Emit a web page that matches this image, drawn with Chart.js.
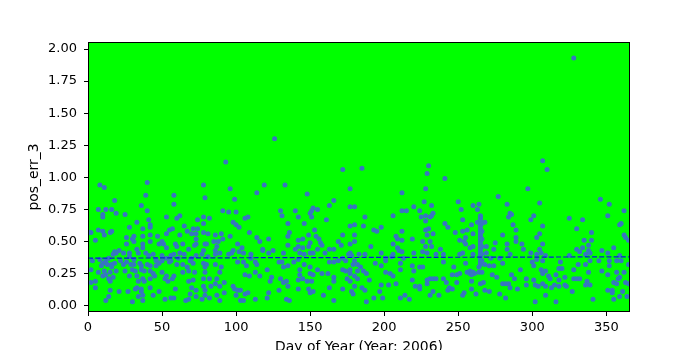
<!DOCTYPE html>
<html lang="en">
<head>
<meta charset="UTF-8">
<title>pos_err_3 - 2006</title>
<script src="https://cdn.jsdelivr.net/npm/chart.js"></script>
<style>
  body { margin: 0; background: #fff; }
</style>
</head>
<body>
<canvas id="chart" width="700" height="350"></canvas>
<script>
const janFeb = [[8,0.94],[11,0.92],[40,0.96],[18,0.82],[39,0.86],[36,0.78],[40,0.74],[7,0.75],[12,0.75],[16,0.75],[10,0.71],[10,0.69],[19,0.72],[25,0.71],[33,0.65],[41,0.67],[42,0.63],[42,0.61],[53,0.69],[58,0.86],[58,0.79],[28,0.61],[37,0.60],[7,0.59],[10,0.58],[11,0.55],[15,0.57],[16,0.58],[2,0.57],[1,0.57],[5,0.51],[26,0.53],[31,0.54],[30,0.52],[31,0.50],[37,0.54],[37,0.48],[37,0.45],[42,0.55],[42,0.50],[47,0.54],[48,0.48],[51,0.48],[50,0.50],[53,0.56],[55,0.59],[57,0.60],[53,0.45],[56,0.39],[58,0.40],[26,0.48],[21,0.43],[18,0.42],[19,0.41],[17,0.40],[24,0.41],[28,0.41],[33,0.44],[34,0.41],[28,0.38],[31,0.36],[39,0.41],[41,0.39],[44,0.40],[46,0.36],[50,0.39],[53,0.37],[3,0.35],[8,0.36],[10,0.33],[12,0.35],[14,0.37],[9,0.31],[13,0.32],[16,0.32],[18,0.33],[22,0.35],[24,0.32],[26,0.34],[29,0.32],[31,0.32],[35,0.33],[36,0.31],[40,0.32],[42,0.31],[46,0.35],[48,0.33],[50,0.35],[55,0.34],[56,0.35],[2,0.28],[7,0.26],[11,0.27],[16,0.30],[15,0.26],[19,0.27],[25,0.27],[30,0.28],[32,0.27],[36,0.28],[38,0.27],[42,0.27],[44,0.25],[46,0.31],[2,0.18],[5,0.19],[10,0.23],[12,0.24],[14,0.21],[15,0.19],[17,0.22],[28,0.23],[33,0.23],[34,0.19],[37,0.21],[38,0.19],[42,0.21],[45,0.23],[50,0.26],[52,0.21],[54,0.19],[57,0.21],[58,0.23],[53,0.23],[5,0.14],[15,0.12],[14,0.07],[12,0.04],[21,0.11],[27,0.11],[32,0.13],[33,0.14],[36,0.13],[36,0.11],[37,0.08],[37,0.04],[34,0.07],[42,0.14],[44,0.08],[48,0.11],[52,0.05],[56,0.06],[58,0.06],[30,0.03]];

const marApr = [[93,1.12],[78,0.94],[79,0.84],[96,0.91],[99,0.83],[114,0.88],[119,0.94],[91,0.74],[95,0.73],[100,0.73],[74,0.67],[78,0.69],[82,0.68],[60,0.68],[62,0.70],[106,0.68],[108,0.69],[98,0.65],[100,0.63],[102,0.61],[78,0.64],[65,0.62],[71,0.60],[74,0.60],[67,0.58],[62,0.55],[70,0.56],[73,0.56],[78,0.57],[81,0.56],[86,0.55],[90,0.56],[109,0.57],[96,0.54],[114,0.53],[116,0.50],[73,0.52],[73,0.48],[72,0.47],[64,0.48],[59,0.48],[60,0.46],[79,0.48],[80,0.48],[85,0.50],[88,0.50],[91,0.52],[87,0.46],[101,0.48],[104,0.45],[118,0.44],[68,0.44],[78,0.43],[86,0.43],[98,0.43],[102,0.42],[62,0.41],[65,0.40],[61,0.37],[70,0.37],[73,0.39],[77,0.40],[81,0.38],[86,0.40],[89,0.41],[95,0.40],[97,0.41],[105,0.41],[110,0.40],[110,0.37],[113,0.34],[105,0.34],[101,0.34],[60,0.32],[64,0.32],[69,0.35],[71,0.33],[67,0.30],[78,0.33],[79,0.30],[80,0.32],[86,0.32],[90,0.30],[107,0.31],[114,0.32],[64,0.26],[68,0.27],[72,0.26],[79,0.26],[89,0.26],[106,0.24],[109,0.23],[113,0.26],[116,0.23],[68,0.19],[71,0.20],[78,0.21],[82,0.21],[87,0.21],[86,0.17],[83,0.15],[78,0.15],[92,0.18],[89,0.15],[98,0.15],[99,0.13],[101,0.12],[103,0.12],[106,0.09],[108,0.10],[59,0.13],[70,0.14],[69,0.09],[73,0.12],[73,0.07],[79,0.12],[79,0.08],[82,0.06],[87,0.08],[89,0.04],[66,0.04],[68,0.05],[77,0.05],[100,0.08],[103,0.04],[105,0.04],[113,0.05],[92,0.10]];

const mayJun = [[126,1.30],[172,1.06],[133,0.94],[177,0.91],[148,0.87],[166,0.82],[163,0.78],[177,0.77],[180,0.77],[152,0.76],[151,0.74],[155,0.75],[150,0.72],[151,0.69],[130,0.74],[131,0.70],[140,0.74],[142,0.69],[161,0.67],[135,0.64],[146,0.64],[177,0.62],[180,0.63],[153,0.59],[136,0.57],[135,0.54],[149,0.55],[154,0.54],[156,0.52],[172,0.55],[122,0.52],[142,0.51],[145,0.52],[150,0.49],[157,0.49],[158,0.47],[169,0.50],[177,0.48],[180,0.50],[135,0.47],[142,0.46],[145,0.45],[149,0.46],[155,0.44],[163,0.44],[166,0.44],[171,0.47],[118,0.43],[122,0.41],[125,0.43],[132,0.41],[140,0.44],[143,0.41],[146,0.40],[150,0.41],[152,0.41],[160,0.41],[177,0.41],[178,0.39],[142,0.36],[172,0.37],[176,0.40],[129,0.34],[131,0.34],[139,0.34],[146,0.32],[163,0.34],[166,0.34],[169,0.35],[174,0.35],[179,0.32],[132,0.30],[135,0.31],[143,0.28],[150,0.30],[155,0.28],[121,0.28],[172,0.28],[174,0.27],[177,0.25],[124,0.22],[123,0.19],[143,0.24],[145,0.21],[150,0.25],[152,0.24],[158,0.25],[162,0.25],[166,0.22],[166,0.19],[175,0.21],[177,0.19],[130,0.21],[132,0.18],[134,0.19],[142,0.20],[148,0.19],[151,0.19],[135,0.15],[142,0.13],[149,0.13],[150,0.10],[152,0.11],[163,0.14],[172,0.13],[122,0.10],[129,0.12],[121,0.06],[134,0.05],[136,0.04],[159,0.08],[166,0.04],[178,0.11],[179,0.09]];

const julAug = [[185,1.07],[230,1.09],[229,1.03],[241,0.99],[212,0.88],[228,0.91],[220,0.77],[227,0.81],[232,0.78],[212,0.74],[215,0.74],[224,0.74],[187,0.69],[206,0.70],[225,0.69],[228,0.70],[228,0.66],[231,0.69],[233,0.72],[232,0.70],[241,0.64],[186,0.62],[198,0.61],[193,0.59],[195,0.58],[212,0.58],[228,0.59],[230,0.60],[233,0.56],[229,0.55],[180,0.55],[208,0.54],[209,0.52],[191,0.46],[206,0.48],[212,0.51],[219,0.52],[226,0.50],[231,0.50],[232,0.46],[228,0.46],[238,0.44],[209,0.45],[210,0.43],[212,0.42],[183,0.40],[187,0.40],[198,0.41],[206,0.40],[220,0.41],[229,0.41],[226,0.42],[235,0.40],[240,0.40],[201,0.37],[201,0.35],[205,0.38],[213,0.37],[180,0.35],[182,0.32],[184,0.30],[194,0.33],[198,0.31],[211,0.33],[211,0.28],[219,0.31],[224,0.30],[226,0.30],[240,0.34],[177,0.28],[182,0.27],[186,0.27],[188,0.25],[201,0.26],[204,0.25],[206,0.23],[220,0.27],[180,0.23],[182,0.21],[190,0.20],[219,0.20],[229,0.20],[231,0.21],[233,0.21],[235,0.21],[240,0.21],[180,0.15],[198,0.16],[208,0.17],[203,0.16],[185,0.14],[187,0.12],[197,0.11],[221,0.15],[224,0.13],[224,0.15],[229,0.17],[233,0.11],[231,0.08],[237,0.08],[188,0.03],[193,0.06],[199,0.06],[211,0.06],[214,0.08],[217,0.05]];

const sepOct = [[297,0.91],[277,0.85],[250,0.81],[283,0.79],[260,0.78],[264,0.79],[263,0.75],[252,0.75],[285,0.72],[286,0.71],[284,0.69],[265,0.69],[253,0.67],[243,0.61],[287,0.63],[289,0.59],[268,0.65],[263,0.65],[259,0.63],[256,0.59],[253,0.58],[248,0.57],[260,0.56],[280,0.55],[289,0.53],[289,0.50],[293,0.48],[283,0.48],[275,0.49],[251,0.51],[255,0.53],[255,0.48],[254,0.50],[260,0.46],[258,0.45],[269,0.46],[274,0.44],[283,0.44],[294,0.44],[253,0.41],[260,0.40],[269,0.41],[272,0.37],[278,0.37],[285,0.40],[251,0.40],[247,0.30],[255,0.33],[268,0.32],[271,0.31],[274,0.31],[280,0.33],[292,0.28],[264,0.26],[266,0.26],[256,0.26],[258,0.25],[249,0.24],[251,0.25],[246,0.24],[273,0.24],[276,0.22],[286,0.24],[288,0.21],[242,0.18],[249,0.18],[259,0.19],[265,0.17],[267,0.18],[280,0.17],[282,0.17],[284,0.17],[285,0.14],[290,0.13],[296,0.21],[296,0.16],[244,0.14],[246,0.13],[259,0.13],[262,0.09],[254,0.10],[253,0.08],[268,0.12],[271,0.11],[278,0.09],[282,0.06],[243,0.12],
  [265,0.70],[265,0.68],[265,0.66],[265,0.64],[265,0.62],[265,0.60],[265,0.58],[265,0.56],[265,0.54],[265,0.52],[265,0.50],[265,0.48],[265,0.46],[265,0.44],[265,0.42],[265,0.40],[265,0.38],[265,0.36],[265,0.34],[265,0.32],[264,0.30],
  [266,0.64],[266,0.58],[266,0.52],[266,0.46],[266,0.40],[266,0.35],[258,0.27],[259,0.26],[260,0.26],[261,0.25],[259,0.24]];

const novDec = [[328,1.93],[307,1.13],[310,1.06],[346,0.83],[352,0.79],[305,0.80],[362,0.74],[351,0.70],[301,0.70],[299,0.67],[325,0.68],[334,0.67],[360,0.64],[359,0.63],[307,0.62],[330,0.60],[340,0.57],[305,0.56],[303,0.53],[362,0.55],[363,0.53],[365,0.51],[335,0.51],[340,0.51],[307,0.48],[338,0.47],[334,0.45],[330,0.44],[305,0.44],[355,0.45],[347,0.43],[338,0.43],[299,0.41],[303,0.40],[306,0.41],[309,0.39],[325,0.39],[332,0.42],[336,0.40],[339,0.41],[351,0.41],[359,0.39],[303,0.36],[307,0.35],[300,0.34],[301,0.31],[319,0.34],[331,0.32],[336,0.32],[339,0.35],[345,0.35],[352,0.35],[352,0.31],[357,0.35],[360,0.35],[365,0.32],[306,0.28],[307,0.25],[309,0.27],[318,0.29],[320,0.29],[328,0.28],[338,0.26],[347,0.27],[351,0.24],[357,0.26],[362,0.26],[311,0.23],[312,0.21],[316,0.24],[318,0.20],[322,0.22],[328,0.21],[330,0.21],[332,0.21],[358,0.21],[359,0.22],[355,0.18],[357,0.17],[363,0.18],[365,0.17],[301,0.20],[302,0.16],[304,0.15],[307,0.17],[309,0.15],[313,0.14],[315,0.16],[318,0.15],[322,0.16],[323,0.15],[337,0.19],[339,0.16],[336,0.16],[327,0.11],[351,0.12],[354,0.12],[361,0.11],[354,0.10],[309,0.08],[302,0.03],[316,0.03],[341,0.05],[355,0.05],[359,0.07],[364,0.07]];

// dashed reference line (start / end value across the year)
const refDays = [0, 366];
const refLevel = [0.37, 0.38];

const xTicks = [0, 50, 100, 150, 200, 250, 300, 350];
const yTicks = [0, 0.25, 0.5, 0.75, 1.0, 1.25, 1.5, 1.75, 2.0];

const allObs = [].concat(janFeb, marApr, mayJun, julAug, sepOct, novDec);

const tickFont = { family: 'DejaVu Sans', size: 13 };
const labelFont = { family: 'DejaVu Sans', size: 13.9 };

// green plot area and black frame like the original figure
const plotFrame = {
  id: 'plotFrame',
  beforeDraw(chart) {
    const a = chart.chartArea, ctx = chart.ctx;
    ctx.save();
    ctx.fillStyle = '#00ff00';
    ctx.fillRect(a.left, a.top, a.right - a.left, a.bottom - a.top);
    ctx.restore();
  },
  afterDraw(chart) {
    const a = chart.chartArea, ctx = chart.ctx;
    ctx.save();
    ctx.strokeStyle = '#000';
    ctx.lineWidth = 1;
    ctx.strokeRect(a.left + 0.5, a.top + 0.5, a.right - a.left - 1, a.bottom - a.top - 1);
    ctx.restore();
  }
};

new Chart(document.getElementById('chart'), {
  type: 'scatter',
  data: {
    datasets: [
      {
        type: 'line',
        data: refDays.map((d, i) => ({ x: d, y: refLevel[i] })),
        borderColor: '#0a14e6',
        borderWidth: 1.2,
        borderDash: [5, 2.2],
        pointRadius: 0,
        fill: false,
        order: 0
      },
      {
        data: allObs.map(p => ({ x: p[0], y: p[1] })),
        backgroundColor: '#3776c0',
        borderWidth: 0,
        pointRadius: 2.5,
        order: 1
      }
    ]
  },
  options: {
    responsive: false,
    animation: false,
    devicePixelRatio: 1,
    layout: { padding: { left: 0, right: 70, top: 42, bottom: 0 } },
    plugins: { legend: { display: false }, tooltip: { enabled: false } },
    scales: {
      x: {
        type: 'linear',
        min: 0,
        max: 366,
        afterBuildTicks: s => { s.ticks = xTicks.map(v => ({ value: v })); },
        afterFit: s => { s.height = 38; },
        border: { display: false },
        grid: { drawOnChartArea: false, drawTicks: true, tickLength: 4, tickColor: '#000' },
        ticks: { color: '#000', font: tickFont, padding: 4, maxRotation: 0, callback: v => String(v) },
        title: { display: true, text: 'Day of Year (Year: 2006)', color: '#000', font: labelFont, padding: { top: 0, bottom: -5.5 } }
      },
      y: {
        type: 'linear',
        min: -0.05,
        max: 2.055,
        afterBuildTicks: s => { s.ticks = yTicks.map(v => ({ value: v })); },
        afterFit: s => { s.width = 88; },
        border: { display: false },
        grid: { drawOnChartArea: false, drawTicks: true, tickLength: 4, tickColor: '#000' },
        ticks: { color: '#000', font: tickFont, padding: 7, callback: v => Number(v).toFixed(2) },
        title: { display: true, text: 'pos_err_3', color: '#000', font: labelFont, padding: { top: 26, bottom: 0 } }
      }
    }
  },
  plugins: [plotFrame]
});
</script>
</body>
</html>
